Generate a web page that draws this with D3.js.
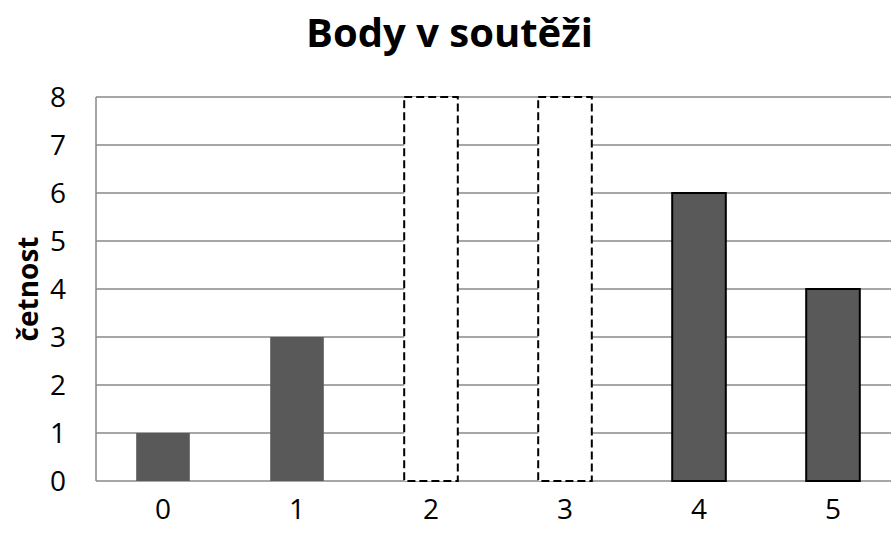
<!DOCTYPE html>
<html>
<head>
<meta charset="utf-8">
<script src="https://cdn.jsdelivr.net/npm/d3@7"></script>
<style>
  html, body { margin: 0; padding: 0; background: #fff; overflow: hidden; }
  svg { display: block; }
</style>
</head>
<body>
<svg id="chart" width="891" height="533"></svg>
<script>
const title = "Body v soutěži";
const yTitle = "četnost";
const categories = ["0", "1", "2", "3", "4", "5"];
const values = [1, 3, 8, 8, 6, 4];
const unknown = [false, false, true, true, false, false];
const yTicks = [0, 1, 2, 3, 4, 5, 6, 7, 8];

const margin = { left: 96, top: 97 };
const plotW = 804;
const plotH = 384;
const font = "'Open Sans', 'DejaVu Sans', sans-serif";

const svg = d3.select("#chart");
const g = svg.append("g").attr("transform", `translate(${margin.left},${margin.top})`);

const x = d3.scaleBand().domain(categories).range([0, plotW]).padding(0);
const y = d3.scaleLinear().domain([0, 8]).range([plotH, 0]);

// gridlines
g.append("g")
  .selectAll("line")
  .data(yTicks)
  .join("line")
  .attr("x1", 0).attr("x2", plotW)
  .attr("y1", d => y(d)).attr("y2", d => y(d))
  .attr("stroke", "#898989")
  .attr("stroke-width", 1.5);

// left axis line
g.append("line")
  .attr("x1", 0).attr("x2", 0)
  .attr("y1", y(8)).attr("y2", y(0))
  .attr("stroke", "#898989")
  .attr("stroke-width", 1.5);

// bars
const barW = x.bandwidth() * 0.4;
g.append("g")
  .selectAll("rect")
  .data(categories.map((c, i) => ({ c, v: values[i], u: unknown[i], i })))
  .join("rect")
  .attr("x", d => x(d.c) + (x.bandwidth() - barW) / 2)
  .attr("y", d => y(d.v))
  .attr("width", barW)
  .attr("height", d => y(0) - y(d.v))
  .attr("fill", d => d.u ? "#ffffff" : "#595959")
  .attr("stroke", d => d.u ? "#000" : (d.i >= 4 ? "#000" : "none"))
  .attr("stroke-width", 2)
  .attr("stroke-dasharray", d => d.u ? "8,4" : null);

// y tick labels
g.append("g")
  .selectAll("text")
  .data(yTicks)
  .join("text")
  .attr("x", -30)
  .attr("y", d => y(d))
  .attr("dy", "0.36em")
  .attr("text-anchor", "end")
  .attr("font-family", font)
  .attr("font-size", 28)
  .attr("fill", "#000")
  .text(d => d);

// x tick labels
g.append("g")
  .selectAll("text")
  .data(categories)
  .join("text")
  .attr("x", d => x(d) + x.bandwidth() / 2)
  .attr("y", plotH + 38)
  .attr("text-anchor", "middle")
  .attr("font-family", font)
  .attr("font-size", 28)
  .attr("fill", "#000")
  .text(d => d);

// title
svg.append("text")
  .attr("x", 449.5)
  .attr("y", 47)
  .attr("text-anchor", "middle")
  .attr("font-family", font)
  .attr("font-weight", "bold")
  .attr("font-size", 40)
  .attr("fill", "#000")
  .text(title);

// y axis title
svg.append("text")
  .attr("transform", "translate(38,289) rotate(-90)")
  .attr("text-anchor", "middle")
  .attr("font-family", font)
  .attr("font-weight", "bold")
  .attr("font-size", 28)
  .attr("fill", "#000")
  .text(yTitle);
</script>
</body>
</html>
